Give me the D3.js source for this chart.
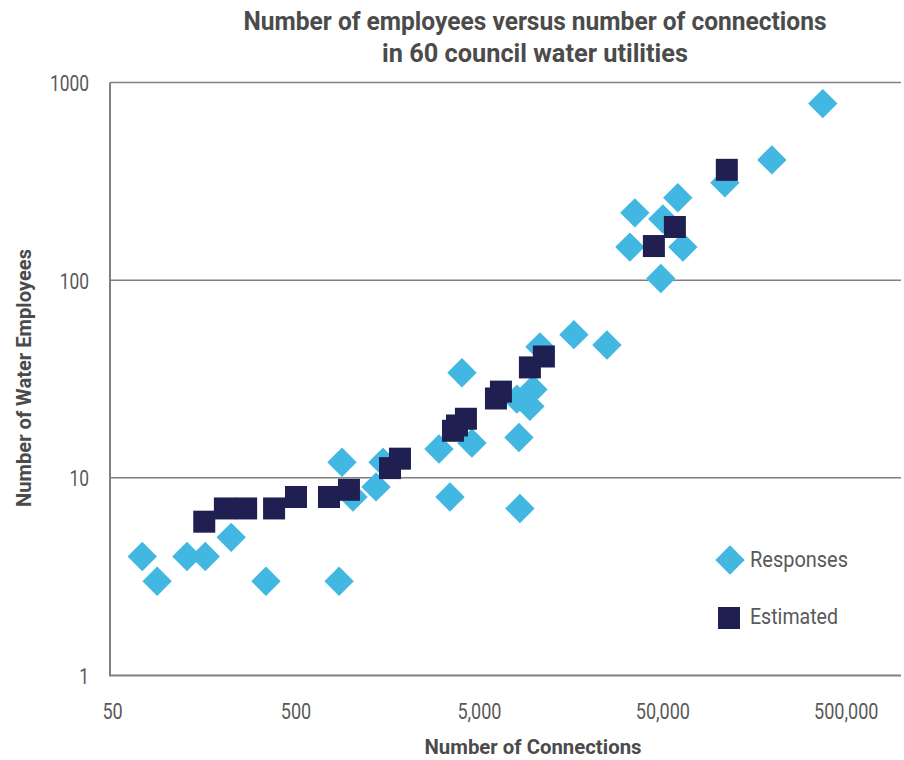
<!DOCTYPE html>
<html>
<head>
<meta charset="utf-8">
<script src="https://cdn.jsdelivr.net/npm/d3@7/dist/d3.min.js"></script>
<style>
  html, body { margin: 0; padding: 0; background: #fff; }
  svg { display: block; font-family: Roboto, "Noto Sans", sans-serif; }
</style>
</head>
<body>
<svg id="chart" width="904" height="760"></svg>
<script>
// Council water utilities: connections served vs. water employees
const connectionTicks = [50, 500, 5000, 50000, 500000];
const employeeTicks = [1, 10, 100, 1000];

// Survey responses
const responseConnections = [73, 88, 128, 161, 223, 345, 864, 896, 1029, 1374, 1500, 3027, 3475, 4040, 4580,
  8050, 9850, 9480, 8260, 8360, 10750, 16470, 24930, 33260, 35400, 50300, 60700, 64700, 49050, 109600, 197700, 374700];
const responseEmployees = [4, 3, 4, 4, 5, 3, 3, 12, 8, 9, 12, 14, 8, 34, 15,
  25, 28, 23, 16, 7, 46, 53, 47, 147, 219, 204, 261, 147, 102, 311, 406, 782];

// Estimated values
const estimatedConnections = [159, 206, 269, 382, 503, 761, 978, 1637, 1855, 3609, 3795, 4246,
  6190, 6590, 9480, 11300, 44950, 58500, 112300];
const estimatedEmployees = [6, 7, 7, 7, 8, 8, 8.7, 11.2, 12.5, 17.3, 18.4, 19.9,
  25.2, 27.3, 36.2, 41.1, 148.8, 185.8, 361.6];

const seriesNames = ["Responses", "Estimated"];
const titleLines = ["Number of employees versus number of connections", "in 60 council water utilities"];
const xTitle = "Number of Connections";
const yTitle = "Number of Water Employees";

const svg = d3.select("#chart");
const plot = { left: 110, right: 901, top: 82.5, bottom: 675.5 };

const x = d3.scaleLog().domain([48.7, 1000000]).range([plot.left, plot.right]);
const y = d3.scaleLog().domain([1, 1000]).range([plot.bottom, plot.top]);

const BLUE = "#42b7e1";
const NAVY = "#1f1f52";
const GRID = "#808080";
const TEXT = "#595959";
const TITLE = "#4b4b4b";

// Squeeze text horizontally to give a condensed face
function condense(sel, k) {
  sel.each(function () {
    const w = this.getComputedTextLength();
    d3.select(this).attr("textLength", w * k).attr("lengthAdjust", "spacingAndGlyphs");
  });
}
function fitTo(sel, w) {
  sel.attr("textLength", w).attr("lengthAdjust", "spacingAndGlyphs");
}

// Title
svg.append("g").selectAll("text").data(titleLines).join("text")
  .attr("x", 535)
  .attr("y", (d, i) => 30 + i * 31.5)
  .attr("text-anchor", "middle")
  .attr("font-size", 26)
  .attr("font-weight", 700)
  .attr("fill", TITLE)
  .text(d => d)
  .each(function (d, i) { fitTo(d3.select(this), i === 0 ? 583 : 306); });

// Horizontal gridlines
svg.append("g").selectAll("line").data(employeeTicks.filter(t => t > 1)).join("line")
  .attr("x1", plot.left).attr("x2", plot.right)
  .attr("y1", d => y(d)).attr("y2", d => y(d))
  .attr("stroke", GRID).attr("stroke-width", 1.5);

// Axis frame (left and bottom)
svg.append("path")
  .attr("d", `M${plot.left},${y(1000)}V${y(1)}H${plot.right}`)
  .attr("fill", "none").attr("stroke", GRID).attr("stroke-width", 2);

// X axis labels
const xAxis = svg.append("g")
  .attr("transform", `translate(0,${plot.bottom})`)
  .call(d3.axisBottom(x).tickValues(connectionTicks).tickFormat(d3.format(",")).tickSize(0).tickPadding(0));
xAxis.select(".domain").remove();
xAxis.selectAll("text")
  .attr("dy", 0).attr("y", 43.5)
  .attr("font-size", 22).attr("font-family", "Roboto, sans-serif")
  .attr("fill", TEXT)
  .call(condense, 0.82);

// Y axis labels
const yAxis = svg.append("g")
  .attr("transform", `translate(${plot.left},0)`)
  .call(d3.axisLeft(y).tickValues(employeeTicks).tickFormat(d3.format("d")).tickSize(0).tickPadding(21));
yAxis.select(".domain").remove();
yAxis.selectAll("text")
  .attr("dy", "0.36em")
  .attr("font-size", 22).attr("font-family", "Roboto, sans-serif")
  .attr("fill", TEXT)
  .call(condense, 0.79);

// Axis titles
svg.append("text")
  .attr("x", 533).attr("y", 754)
  .attr("text-anchor", "middle")
  .attr("font-size", 21).attr("font-weight", 700)
  .attr("fill", TITLE)
  .text(xTitle)
  .call(fitTo, 217);

svg.append("text")
  .attr("transform", `translate(31,378) rotate(-90)`)
  .attr("text-anchor", "middle")
  .attr("font-size", 21).attr("font-weight", 700)
  .attr("fill", TITLE)
  .text(yTitle)
  .call(fitTo, 258);

// Marker shapes
const diamondHalf = 14.7;
const squareSide = 22;
const diamondPath = `M0,${-diamondHalf}L${diamondHalf},0L0,${diamondHalf}L${-diamondHalf},0Z`;

const responses = responseConnections.map((c, i) => ({ c, e: responseEmployees[i] }));
const estimated = estimatedConnections.map((c, i) => ({ c, e: estimatedEmployees[i] }));

svg.append("g").selectAll("path").data(responses).join("path")
  .attr("d", diamondPath)
  .attr("transform", d => `translate(${x(d.c)},${y(d.e)})`)
  .attr("fill", BLUE);

svg.append("g").selectAll("rect").data(estimated).join("rect")
  .attr("x", d => x(d.c) - squareSide / 2)
  .attr("y", d => y(d.e) - squareSide / 2)
  .attr("width", squareSide).attr("height", squareSide)
  .attr("fill", NAVY);

// Legend
const legend = svg.append("g");
legend.append("path")
  .attr("d", diamondPath)
  .attr("transform", "translate(730,560)")
  .attr("fill", BLUE);
legend.append("rect")
  .attr("x", 729 - squareSide / 2).attr("y", 618 - squareSide / 2)
  .attr("width", squareSide).attr("height", squareSide)
  .attr("fill", NAVY);
legend.selectAll("text").data(seriesNames).join("text")
  .attr("x", 750)
  .attr("y", (d, i) => i === 0 ? 566.5 : 624)
  .attr("font-size", 22)
  .attr("fill", TEXT)
  .text(d => d)
  .each(function (d, i) { fitTo(d3.select(this), i === 0 ? 98 : 88); });
</script>
</body>
</html>
